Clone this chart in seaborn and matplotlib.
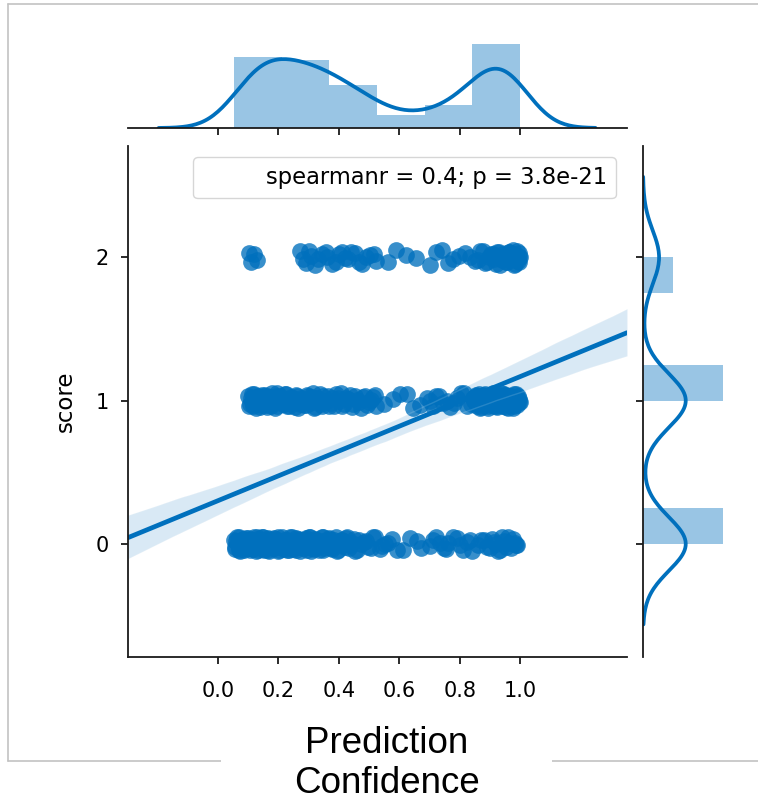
import numpy as np
import pandas as pd
import matplotlib
matplotlib.use("Agg")
import matplotlib.pyplot as plt
from matplotlib.patches import Patch, Rectangle
from matplotlib.lines import Line2D
import seaborn as sns

# ---------------- data ----------------
conf_score0 = [0.053, 0.057, 0.062, 0.068, 0.071, 0.077, 0.082, 0.086, 0.091, 0.095,
               0.099, 0.104, 0.109, 0.113, 0.116, 0.121, 0.126, 0.13, 0.133, 0.138,
               0.143, 0.147, 0.152, 0.155, 0.16, 0.165, 0.168, 0.173, 0.177, 0.182,
               0.186, 0.191, 0.195, 0.2, 0.206,
               0.213, 0.218, 0.222, 0.227, 0.231, 0.236, 0.241, 0.245, 0.25, 0.255,
               0.259, 0.264, 0.27, 0.275, 0.28, 0.286, 0.291, 0.297, 0.302, 0.308,
               0.314, 0.319, 0.325, 0.331, 0.337, 0.343, 0.349, 0.354, 0.36, 0.366,
               0.373, 0.381, 0.39, 0.398, 0.406, 0.415, 0.424, 0.433, 0.443, 0.455,
               0.468, 0.482, 0.497, 0.513,
               0.535, 0.552, 0.576, 0.612, 0.658,
               0.703, 0.722, 0.747, 0.763, 0.792, 0.812, 0.834,
               0.862, 0.881, 0.899, 0.914, 0.928, 0.941, 0.953, 0.964, 0.976, 0.99,
               # second batch
               0.055, 0.06, 0.065, 0.07, 0.074, 0.079, 0.084, 0.088, 0.093, 0.097,
               0.101, 0.106, 0.111, 0.114, 0.118, 0.123, 0.128, 0.131, 0.135, 0.14,
               0.145, 0.149, 0.153, 0.158, 0.162, 0.166, 0.17, 0.175, 0.179, 0.184,
               0.188, 0.193, 0.197, 0.203, 0.209,
               0.215, 0.22, 0.224, 0.229, 0.233, 0.238, 0.243, 0.247, 0.252, 0.257,
               0.261, 0.267, 0.272, 0.277, 0.283, 0.288, 0.294, 0.299, 0.305, 0.311,
               0.316, 0.322, 0.328, 0.334, 0.34, 0.346, 0.351, 0.357, 0.363, 0.367,
               0.377, 0.385, 0.394, 0.402, 0.41, 0.419, 0.428, 0.438, 0.449, 0.461,
               0.475, 0.489, 0.505, 0.52,
               0.543, 0.564, 0.594, 0.635, 0.672,
               0.712, 0.735, 0.755, 0.778, 0.802, 0.823, 0.84,
               0.871, 0.89, 0.907, 0.921, 0.935, 0.947, 0.959, 0.97, 0.982, 0.987]
conf_score1 = [0.1, 0.106, 0.111, 0.117, 0.122, 0.128, 0.133, 0.139, 0.144, 0.149,
               0.155, 0.16, 0.166, 0.171, 0.177, 0.182, 0.188, 0.194, 0.199, 0.205,
               0.214, 0.222, 0.23, 0.238, 0.246, 0.254, 0.262, 0.27, 0.278, 0.286,
               0.294, 0.302, 0.31, 0.318, 0.327, 0.336, 0.345, 0.354, 0.363,
               0.374, 0.385, 0.396, 0.407, 0.418, 0.43, 0.442, 0.454, 0.466, 0.479,
               0.492, 0.506, 0.52,
               0.551, 0.603, 0.645,
               0.691, 0.712, 0.733, 0.758, 0.781, 0.803, 0.824,
               0.845, 0.849, 0.853, 0.857, 0.861, 0.865, 0.869, 0.873, 0.877, 0.881,
               0.885, 0.889, 0.893, 0.897, 0.901, 0.905, 0.909, 0.913, 0.917, 0.921,
               0.925, 0.929, 0.933, 0.937, 0.941, 0.945, 0.949, 0.953, 0.957, 0.961,
               0.965, 0.969, 0.973, 0.977, 0.981, 0.985, 0.989, 0.994, 1.0,
               # second batch
               0.103, 0.108, 0.114, 0.119, 0.125, 0.13, 0.136, 0.141, 0.147, 0.152,
               0.157, 0.163, 0.168, 0.174, 0.18, 0.185, 0.191, 0.196, 0.202, 0.208,
               0.218, 0.226, 0.234, 0.242, 0.25, 0.258, 0.266, 0.274, 0.282, 0.29,
               0.298, 0.306, 0.314, 0.322, 0.331, 0.34, 0.349, 0.358, 0.366,
               0.379, 0.39, 0.401, 0.412, 0.424, 0.436, 0.448, 0.46, 0.472, 0.485,
               0.499, 0.513, 0.524,
               0.578, 0.625, 0.668,
               0.701, 0.722, 0.745, 0.769, 0.792, 0.814, 0.836,
               0.847, 0.851, 0.855, 0.859, 0.863, 0.867, 0.871, 0.875, 0.879, 0.883,
               0.887, 0.891, 0.895, 0.899, 0.903, 0.907, 0.911, 0.915, 0.919, 0.923,
               0.927, 0.931, 0.935, 0.939, 0.943, 0.947, 0.951, 0.955, 0.959, 0.963,
               0.967, 0.971, 0.975, 0.979, 0.983, 0.987, 0.991, 0.996, 0.998]
conf_score2 = [0.102, 0.128,
               0.272, 0.291, 0.309, 0.332, 0.356,
               0.378, 0.401, 0.419, 0.44, 0.466, 0.489, 0.518,
               0.562, 0.623,
               0.702, 0.741, 0.778, 0.819,
               0.852, 0.868, 0.884, 0.897, 0.909, 0.92, 0.93, 0.939, 0.947, 0.955,
               0.962, 0.969, 0.975, 0.981, 0.986, 0.991, 0.995, 0.998,
               # second batch
               0.108, 0.118,
               0.281, 0.3, 0.321, 0.344, 0.362,
               0.389, 0.41, 0.43, 0.452, 0.477, 0.503, 0.522,
               0.59, 0.655,
               0.721, 0.76, 0.798, 0.835,
               0.86, 0.876, 0.89, 0.903, 0.914, 0.925, 0.934, 0.943, 0.951, 0.958,
               0.965, 0.972, 0.978, 0.983, 0.988, 0.993, 0.996, 0.999]
# vertical display jitter of the scatter points (only affects the look)
jitter_a = [0.03, -0.02, 0.045, -0.04, 0.01, -0.015, 0.035, -0.045, 0.02, -0.005,
            0.04, -0.03, 0.0, 0.025, -0.035, 0.015, -0.05, 0.05, -0.01, 0.03,
            -0.025, 0.045, -0.04, 0.005, 0.02, -0.045, 0.035, -0.02, 0.01, -0.03,
            0.04, -0.005, 0.025, -0.05, 0.015, 0.045, -0.035, 0.0, 0.03, -0.015,
            -0.04, 0.02, 0.05, -0.025, 0.01, -0.045, 0.035, -0.01, 0.025, -0.03,
            0.005, 0.04, -0.02, 0.045, -0.05, 0.015, -0.035, 0.03, 0.0, -0.015,
            0.05, -0.04, 0.02, -0.005, 0.035, -0.025, 0.01, 0.045, -0.045, 0.025,
            -0.01, 0.04, -0.03, 0.005, -0.05, 0.03, 0.015, -0.02, 0.045, -0.035,
            0.0, 0.035, -0.04, 0.02, -0.015, 0.05, -0.025, 0.01, 0.04, -0.045,
            0.025, -0.005, 0.03, -0.03, 0.015, -0.05, 0.045, -0.02, 0.005, 0.035, -0.01]
jitter_b = [-0.035, 0.02, -0.01, 0.045, -0.05, 0.025, 0.005, -0.03, 0.04, -0.015,
            0.03, -0.045, 0.015, -0.025, 0.05, -0.005, 0.035, -0.04, 0.01, 0.0,
            -0.02, 0.045, -0.035, 0.025, -0.01, 0.04, -0.05, 0.02, 0.005, -0.03,
            0.035, -0.015, 0.05, -0.045, 0.01, -0.025, 0.03, 0.0, -0.04, 0.015,
            0.045, -0.005, -0.035, 0.02, 0.04, -0.02, 0.005, -0.05, 0.03, -0.01,
            0.025, -0.04, 0.01, 0.045, -0.03, 0.0, 0.035, -0.015, -0.045, 0.02,
            0.05, -0.025, 0.015, -0.005, 0.04, -0.035, 0.03, -0.05, 0.005, 0.025,
            -0.02, 0.045, -0.01, 0.035, -0.04, 0.0, 0.02, -0.03, 0.05, -0.015,
            0.01, -0.045, 0.04, -0.025, 0.03, 0.005, -0.035, 0.045, -0.005, 0.015,
            -0.05, 0.025, -0.02, 0.035, 0.0, -0.04, 0.02, 0.045, -0.03, 0.01, -0.01]
score_levels = [0, 1, 2]
x_ticks = [0.0, 0.2, 0.4, 0.6, 0.8, 1.0]
stat_text = "spearmanr = 0.4; p = 3.8e-21"
xlabel_lines = ["Prediction", "Confidence"]
ylabel = "score"

rows = [conf_score0, conf_score1, conf_score2]
conf, score, score_disp = [], [], []
for lvl, xs in zip(score_levels, rows):
    half = len(xs) // 2
    jit = jitter_a[:half] + jitter_b[:len(xs) - half]
    conf += xs
    score += [lvl] * len(xs)
    score_disp += [lvl + j for j in jit]
df = pd.DataFrame({"conf": conf, "score": score, "score_disp": score_disp})

# ---------------- style / layout ----------------
sns.set_style("ticks")
plt.rcParams["axes.edgecolor"] = "#1a1a1a"
plt.rcParams["xtick.color"] = "#1a1a1a"
plt.rcParams["ytick.color"] = "#1a1a1a"
plt.rcParams["xtick.labelcolor"] = "black"
plt.rcParams["ytick.labelcolor"] = "black"
plt.rcParams["axes.labelcolor"] = "black"
plt.rcParams["text.color"] = "black"
C = "#0070BD"
W, H = 758, 802

g = sns.JointGrid(height=7)
fig = g.figure
fig.set_size_inches(W / 100, H / 100)
fig.set_dpi(100)
g.ax_joint.set_position([128 / W, 1 - 657 / H, 499 / W, 511 / H])
g.ax_marg_x.set_position([128 / W, 1 - 128 / H, 499 / W, 102 / H])
g.ax_marg_y.set_position([643 / W, 1 - 657 / H, 102 / W, 511 / H])

ax = g.ax_joint
xlim = (-0.298, 1.354)
ylim = (-0.789, 2.777)
ax.set_xlim(*xlim)
ax.set_ylim(*ylim)

sns.scatterplot(data=df, x="conf", y="score_disp", ax=ax, s=145, color=C,
                alpha=0.78, linewidth=0, legend=False)
sns.regplot(data=df, x="conf", y="score", ax=ax, scatter=False, truncate=False,
            color=C, line_kws=dict(lw=3.4), seed=3)

# marginals
sns.histplot(data=df, x="conf", bins=6, stat="density", ax=g.ax_marg_x,
             color=C, alpha=0.4, linewidth=0)
sns.kdeplot(data=df, x="conf", ax=g.ax_marg_x, cut=3, bw_adjust=0.9,
            color=C, lw=2.7)
sns.histplot(data=df, y="score", bins=8, stat="density", ax=g.ax_marg_y,
             color=C, alpha=0.4, linewidth=0)
sns.kdeplot(data=df, y="score", ax=g.ax_marg_y, cut=3, bw_adjust=0.9,
            color=C, lw=2.7)
g.ax_marg_x.set_ylim(0, 2.15)
g.ax_marg_y.set_xlim(0, 2.14)
for a in (g.ax_marg_x, g.ax_marg_y):
    a.set_xlabel("")
    a.set_ylabel("")

ax.set_xlim(*xlim)
ax.set_ylim(*ylim)
ax.set_xticks(x_ticks)
ax.set_yticks(score_levels)
ax.set_xlabel("")
ax.set_ylabel(ylabel, fontsize=16.5, labelpad=13)
ax.tick_params(axis="x", labelsize=15, pad=12, length=5, width=1.3)
ax.tick_params(axis="y", labelsize=15, pad=9, length=5, width=1.3)
g.ax_marg_x.tick_params(axis="x", length=5, width=1.3)
g.ax_marg_y.tick_params(axis="y", length=5, width=1.3)
for a in (ax, g.ax_marg_x, g.ax_marg_y):
    for s in a.spines.values():
        s.set_linewidth(1.3)

ax.legend([Patch(facecolor="none", edgecolor="none")], [stat_text],
          loc="upper right", fontsize=16.3)

# slide frame + big axis title
frame_c = "#c2c2c2"
fx0, fy0, fy1 = 8 / W, 1 - 761 / H, 1 - 4 / H
fig.add_artist(Line2D([fx0, 1], [fy1, fy1], transform=fig.transFigure, color=frame_c, lw=1.2))
fig.add_artist(Line2D([fx0, fx0], [fy0, fy1], transform=fig.transFigure, color=frame_c, lw=1.2))
fig.add_artist(Line2D([fx0, 1], [fy0, fy0], transform=fig.transFigure, color=frame_c, lw=1.2))
fig.add_artist(Rectangle((221 / W, 0), (552 - 221) / W, 102 / H, transform=fig.transFigure,
                         facecolor="white", edgecolor="none", zorder=5))
fig.text(387 / W, 1 - 753 / H, xlabel_lines[0], fontsize=26.5, family="Liberation Sans",
         ha="center", va="baseline", zorder=6)
fig.text(387 / W, 1 - 793 / H, xlabel_lines[1], fontsize=26.5, family="Liberation Sans",
         ha="center", va="baseline", zorder=6)

fig.savefig("out.png", dpi=100)
